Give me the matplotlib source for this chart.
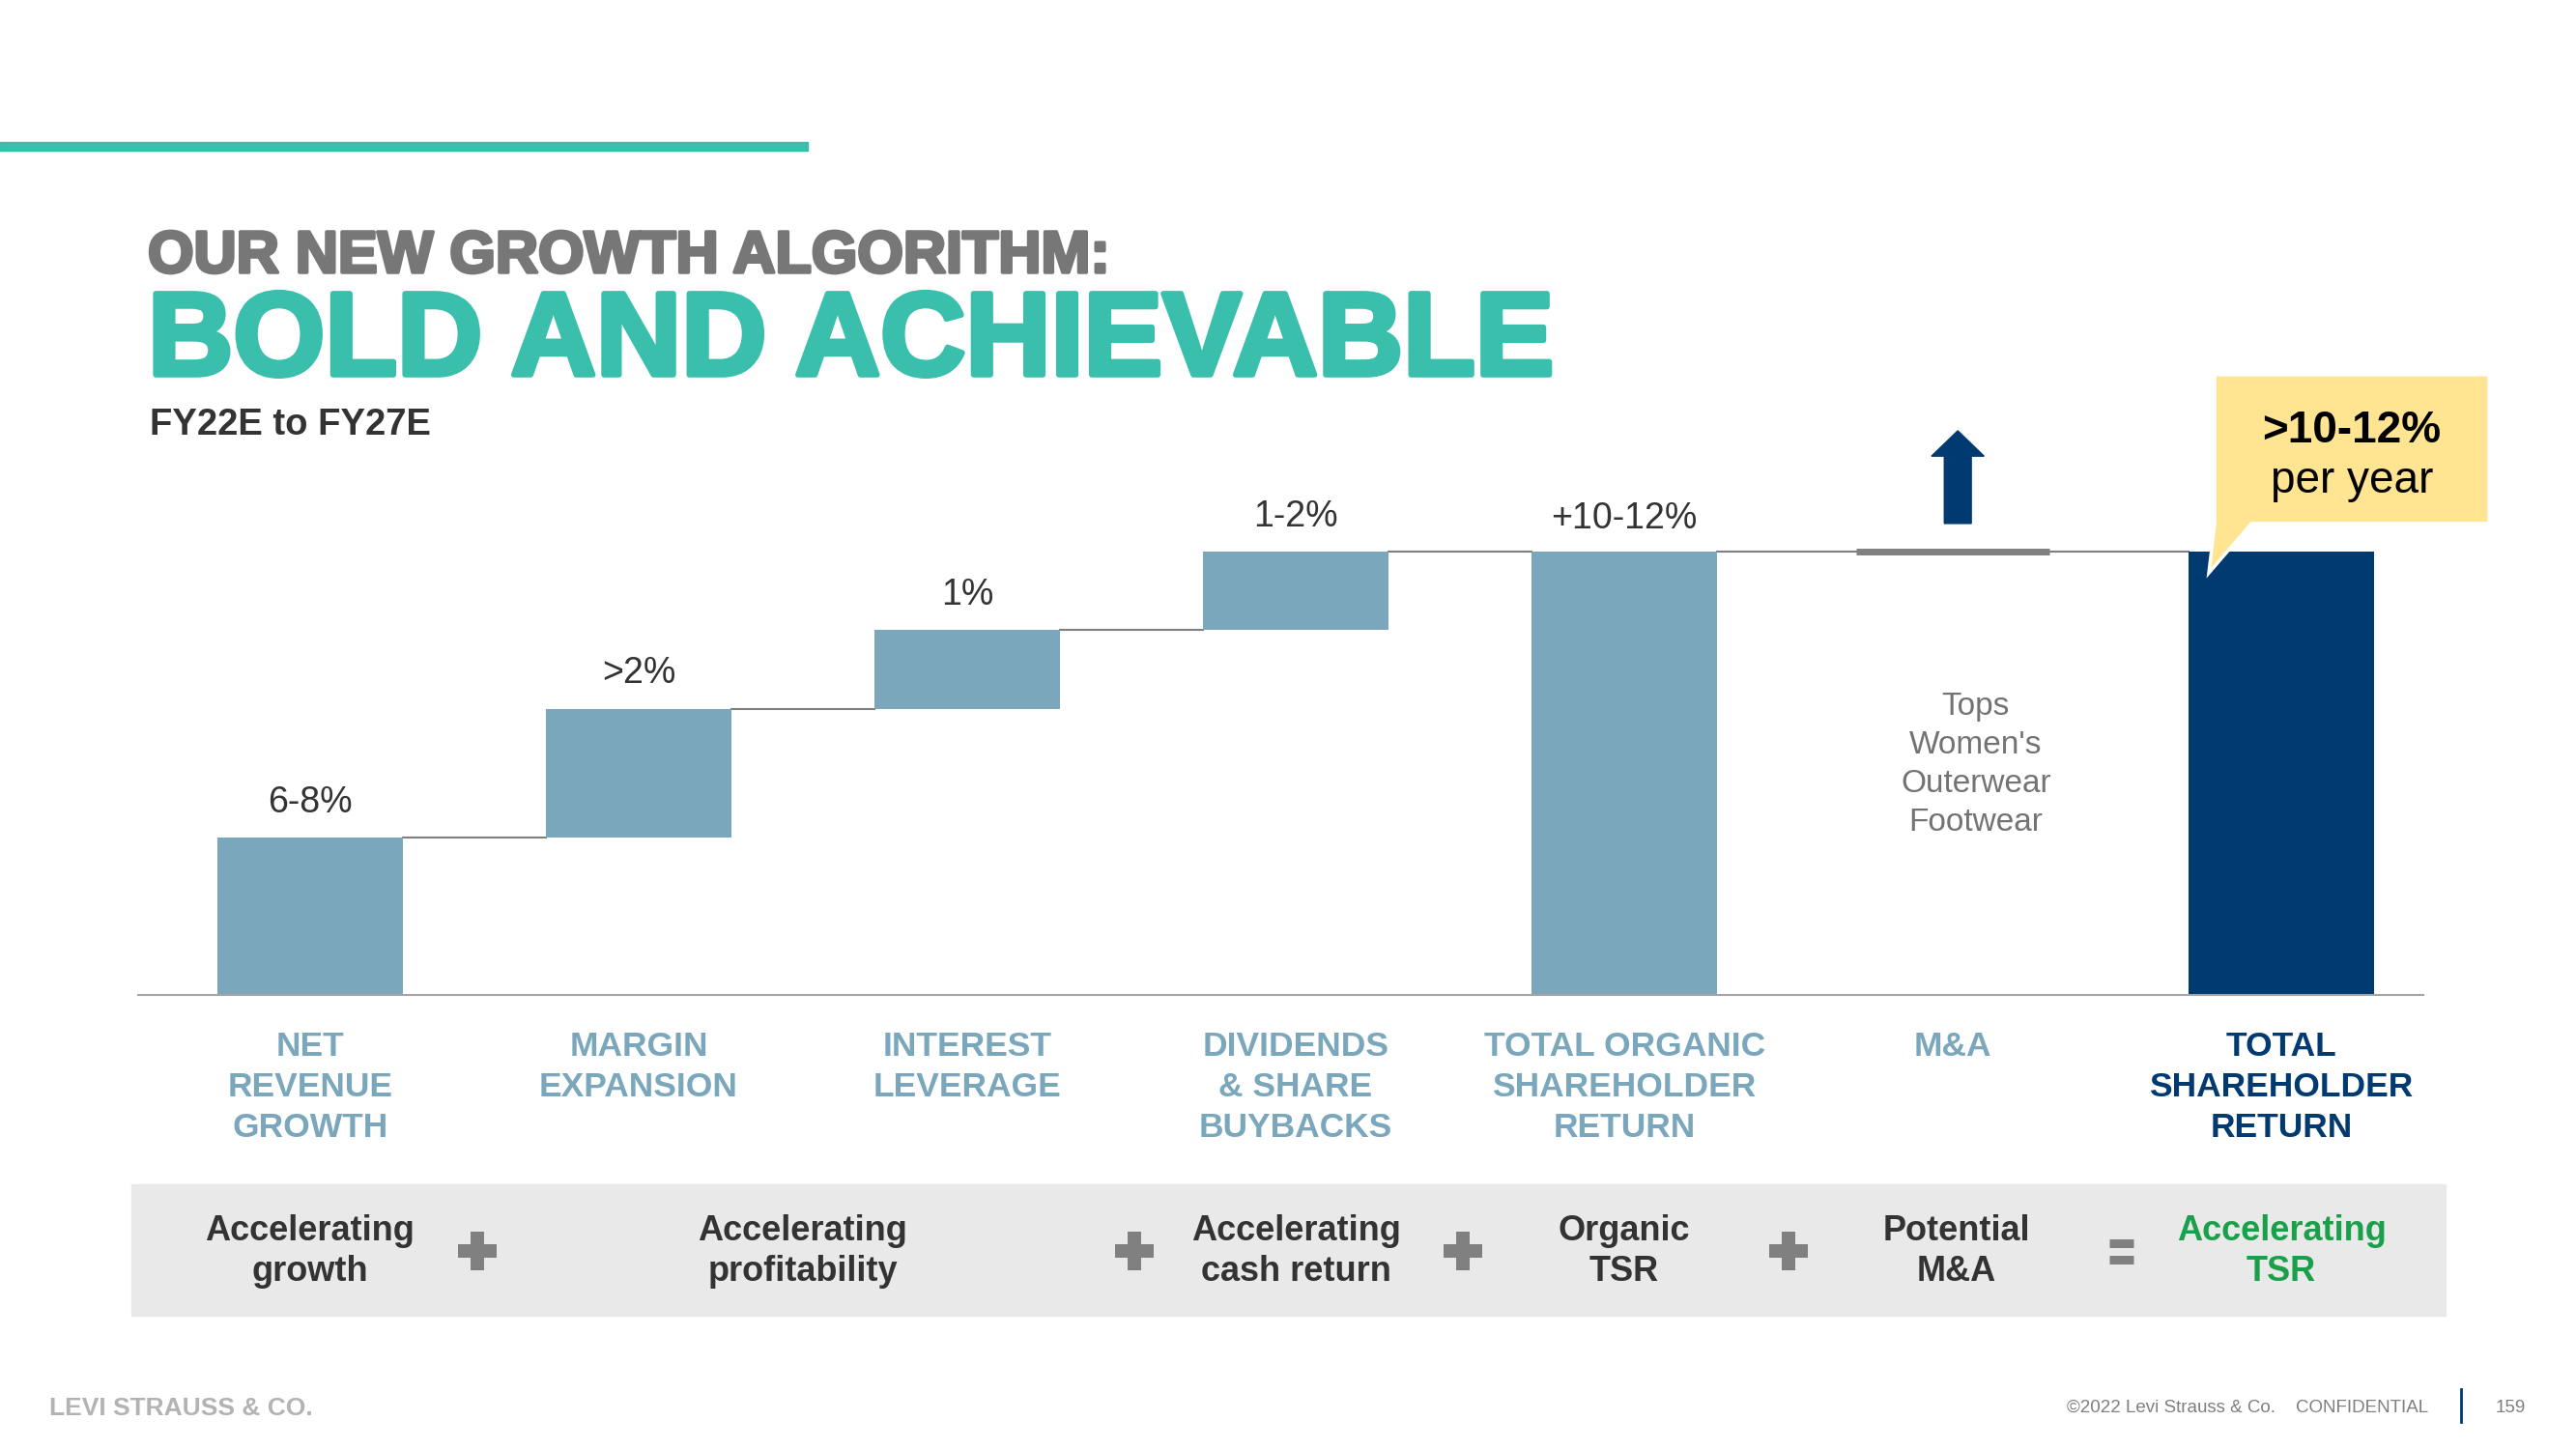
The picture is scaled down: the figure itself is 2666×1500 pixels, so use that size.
import matplotlib
matplotlib.use("Agg")
import matplotlib.pyplot as plt
import matplotlib.patheffects as pe
from matplotlib.patches import Rectangle, Polygon
from matplotlib.transforms import blended_transform_factory
import numpy as np

plt.rcParams['font.family'] = ['Liberation Sans', 'DejaVu Sans']

# ---- data (visual step heights, total = 11) ----
categories = [
    ["NET", "REVENUE", "GROWTH"],
    ["MARGIN", "EXPANSION"],
    ["INTEREST", "LEVERAGE"],
    ["DIVIDENDS", "& SHARE", "BUYBACKS"],
    ["TOTAL ORGANIC", "SHAREHOLDER", "RETURN"],
    ["M&A"],
    ["TOTAL", "SHAREHOLDER", "RETURN"],
]
steps = [3.9, 3.2, 1.95, 1.95]
step_labels = ["6-8%", ">2%", "1%", "1-2%"]
organic_label = "+10-12%"
callout_lines = [">10-12%", "per year"]
ma_items = ["Tops", "Women's", "Outerwear", "Footwear"]
band_texts = [
    ["Accelerating", "growth"],
    ["Accelerating", "profitability"],
    ["Accelerating", "cash return"],
    ["Organic", "TSR"],
    ["Potential", "M&A"],
    ["Accelerating", "TSR"],
]
band_pos = [0, 1.5, 3, 4, 5.01, 6]
band_ops = ["+", "+", "+", "+", "="]
op_pos = [0.51, 2.51, 3.51, 4.5, 5.51]

STEEL = "#7BA7BC"
NAVY = "#003A70"
TEAL = "#3BBFAD"
GREEN = "#1A9F4B"
DARK = "#333333"
GRAY = "#808080"

W, H = 2666, 1500
fig = plt.figure(figsize=(W / 100, H / 100), dpi=100)
fig.patch.set_facecolor("white")


def fx(px):
    return px / W


def fy(py):
    return 1 - py / H


# top teal rule
fig.patches.append(Rectangle((0, fy(156)), fx(836), 9 / H, transform=fig.transFigure,
                             color=TEAL, zorder=-1))

# titles
fig.text(fx(153), fy(282), "OUR NEW GROWTH ALGORITHM:", fontsize=44, fontweight="bold",
         color="#777777", va="baseline",
         path_effects=[pe.withStroke(linewidth=2.5, foreground="#777777")])
fig.text(fx(153), fy(388), "BOLD AND ACHIEVABLE", fontsize=88, fontweight="bold",
         color=TEAL, va="baseline",
         path_effects=[pe.withStroke(linewidth=4, foreground=TEAL)])
fig.text(fx(155), fy(450), "FY22E to FY27E", fontsize=27.5, fontweight="bold",
         color=DARK, va="baseline")

# ---- waterfall axes ----
ax = fig.add_axes([fx(143), fy(1030), fx(2508) - fx(143), fy(380) - fy(1030)])
ax.set_xlim(-0.5235, 6.432)
ax.set_ylim(0, 15.58)
for s in ["top", "left", "right"]:
    ax.spines[s].set_visible(False)
ax.spines["bottom"].set_color("#a6a6a6")
ax.spines["bottom"].set_linewidth(1.5)
ax.set_xticks([])
ax.set_yticks([])
ax.patch.set_alpha(0)

bw = 0.565
ma_w = 0.586
tops = np.cumsum(steps)
bottoms = tops - np.array(steps)
organic = tops[-1]

xs = np.arange(len(steps))
ax.bar(xs, steps, bottom=bottoms, width=bw, color=STEEL, zorder=2)
ax.bar(4, organic, width=bw, color=STEEL, zorder=2)
ax.bar(6, organic, width=bw, color=NAVY, zorder=2)
ax.plot([5 - ma_w / 2, 5 + ma_w / 2], [organic, organic], color=GRAY, lw=5,
        solid_capstyle="butt", zorder=3)

# connectors
conn = dict(color="#7f7f7f", lw=1.5, zorder=1)
for i, t in enumerate(tops):
    ax.plot([i + bw / 2, i + 1 - bw / 2], [t, t], **conn)
ax.plot([4 + bw / 2, 5 - ma_w / 2], [organic, organic], **conn)
ax.plot([5 + ma_w / 2, 6 - bw / 2], [organic, organic], **conn)

# value labels
for i, (t, lab) in enumerate(zip(tops, step_labels)):
    ax.annotate(lab, (i, t), xytext=(0, 19), textcoords="offset points",
                ha="center", va="baseline", fontsize=27, color=DARK)
ax.annotate(organic_label, (4, organic), xytext=(0, 17), textcoords="offset points",
            ha="center", va="baseline", fontsize=27, color=DARK)

# up arrow over M&A
upx = 5.015
sh, hh = 0.041, 0.08
y0, yb, yt = organic + 0.70, organic + 2.37, organic + 3.0
ax.fill([upx - sh, upx + sh, upx + sh, upx + hh, upx, upx - hh, upx - sh],
        [y0, y0, yb, yb, yt, yb, yb], color=NAVY, zorder=3, clip_on=False)

# M&A items
for k, item in enumerate(ma_items):
    ax.text(5.07, 6.95 - k * 0.96, item, ha="center", va="baseline",
            fontsize=24, color="#737373")

# callout
bx0, bx1 = 5.797, 6.632
by0, by1 = organic + 0.70, organic + 4.39
callout = Polygon([(bx0, by1), (bx1, by1), (bx1, by0), (5.909, by0),
                   (5.779, organic - 0.53), (bx0, by0)], closed=True,
                  facecolor="#FFE591", edgecolor="white", lw=2.5, zorder=4, clip_on=False)
ax.add_patch(callout)
cx = (bx0 + bx1) / 2
ax.text(cx, organic + 2.71, callout_lines[0], ha="center", va="baseline", fontsize=33,
        fontweight="bold", color="black", zorder=5, clip_on=False)
ax.text(cx, organic + 1.46, callout_lines[1], ha="center", va="baseline", fontsize=33,
        color="black", zorder=5, clip_on=False)

# category labels
blend = blended_transform_factory(ax.transData, fig.transFigure)
for i, lines in enumerate(categories):
    col = NAVY if i == len(categories) - 1 else STEEL
    for j, ln in enumerate(lines):
        fig.text(i, fy(1093 + 42 * j), ln, transform=blend, ha="center", va="baseline",
                 fontsize=25.5, fontweight="bold", color=col)

# bottom band
fig.patches.append(Rectangle((fx(136), fy(1362)), fx(2531) - fx(136), 136 / H,
                             transform=fig.transFigure, color="#E9E9E9", zorder=-1))
for i, (pos, lines) in enumerate(zip(band_pos, band_texts)):
    col = GREEN if i == len(band_texts) - 1 else DARK
    for j, ln in enumerate(lines):
        fig.text(pos, fy(1284 + 42 * j), ln, transform=blend, ha="center", va="baseline",
                 fontsize=26, fontweight="bold", color=col)
for op, pos in zip(band_ops, op_pos):
    if op == "+":
        ax.plot([pos], [fy(1295)], transform=blend, marker="P", ms=29, mew=0,
                color=GRAY, ls="none", clip_on=False, zorder=5)
    else:
        ax.plot([pos, pos], [fy(1287), fy(1304)], transform=blend, marker="_", ms=18,
                mew=6.5, color=GRAY, ls="none", clip_on=False, zorder=5)

# footer
fig.text(fx(51), fy(1465), "LEVI STRAUSS & CO.", fontsize=19, fontweight="bold",
         color="#b3b3b3", va="baseline")
fig.text(fx(2513), fy(1462), "\u00a92022 Levi Strauss & Co.    CONFIDENTIAL", fontsize=13.5,
         color="#7f7f7f", ha="right", va="baseline")
fig.add_artist(plt.Line2D([fx(2547), fx(2547)], [fy(1472), fy(1438)],
                          transform=fig.transFigure, color=NAVY, lw=2))
fig.text(fx(2598), fy(1462), "159", fontsize=13.5, color="#7f7f7f", ha="center",
         va="baseline")

fig.savefig("out.png", dpi=100, facecolor="white")
